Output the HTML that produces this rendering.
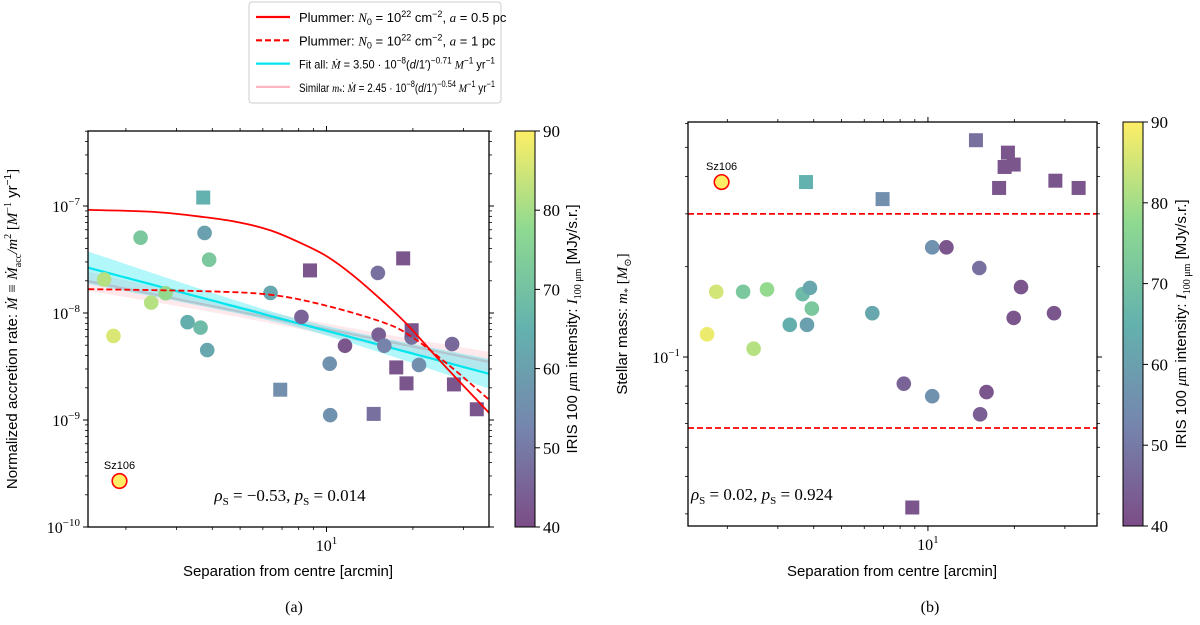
<!DOCTYPE html>
<html><head><meta charset="utf-8"><style>
html,body{margin:0;padding:0;background:#fff;}
svg{display:block;}
.sans{font-family:"Liberation Sans","DejaVu Sans",sans-serif;}
.serif{font-family:"Liberation Serif","DejaVu Serif",serif;}
</style></head><body>
<svg id="fig" width="1200" height="625" viewBox="0 0 1200 625" xmlns="http://www.w3.org/2000/svg">
<defs>
<linearGradient id="vir" x1="0" y1="1" x2="0" y2="0">
<stop offset="0" stop-color="#440154"/><stop offset="0.25" stop-color="#3b528b"/><stop offset="0.5" stop-color="#21918c"/><stop offset="0.75" stop-color="#5ec962"/><stop offset="1" stop-color="#fde725"/>
</linearGradient>
<clipPath id="clipL"><rect x="88" y="131" width="401" height="396"/></clipPath>
<clipPath id="clipR"><rect x="688" y="122" width="409" height="404"/></clipPath>
</defs>
<g id="gL"></g>
<g id="gR"></g>
<text x="294" y="612" class="serif" font-size="16" text-anchor="middle">(a)</text>
<text x="930" y="612" class="serif" font-size="16" text-anchor="middle">(b)</text>
</svg>
<script>
// ---- data (panel a) ----
const sepSqA = [3.72, 8.76, 18.5, 19.8, 6.9, 17.5, 19.0, 27.8, 14.6, 33.4];
const rateSqA = [1.2e-7, 2.5e-8, 3.24e-8, 6.9e-9, 1.92e-9, 3.1e-9, 2.2e-9, 2.15e-9, 1.14e-9, 1.26e-9];
const irisSqA = [65, 42, 42, 42, 55, 42, 42, 42, 48, 42];
const sepCiA = [1.68, 1.81, 2.25, 2.45, 2.75, 3.28, 3.64, 3.76, 3.90, 3.84, 6.38, 8.18, 10.26, 10.3, 11.6, 15.1, 15.2, 15.9, 19.8, 21.0, 27.4];
const rateCiA = [2.06e-8, 6.1e-9, 5.06e-8, 1.25e-8, 1.53e-8, 8.2e-9, 7.3e-9, 5.6e-8, 3.15e-8, 4.5e-9, 1.54e-8, 9.2e-9, 3.36e-9, 1.11e-9, 4.94e-9, 2.37e-8, 6.27e-9, 4.94e-9, 5.9e-9, 3.27e-9, 5.13e-9];
const irisCiA = [82, 86, 72, 82, 78, 64, 68, 60, 72, 62, 62, 45, 56, 56, 42, 48, 44, 52, 48, 55, 46];
const sz106A = [1.90, 2.69e-10, 90];
const plumSolidX = [1.48, 2.5, 3.72, 5, 6.4, 8, 10, 12.5, 15.9, 19.1, 25.3, 36.8];
const plumSolidY = [9.2e-8, 8.8e-8, 7.9e-8, 7e-8, 5.9e-8, 4.6e-8, 3.4e-8, 2.2e-8, 1.25e-8, 7.8e-9, 3.4e-9, 1.17e-9];
const plumDashX = [1.48, 3.72, 6.4, 10, 15.9, 19.8, 26.9, 36.8];
const plumDashY = [1.67e-8, 1.6e-8, 1.48e-8, 1.17e-8, 8.1e-9, 6e-9, 3.2e-9, 1.55e-9];
const fitAll = [3.50e-8, -0.71];
const fitSimilar = [2.45e-8, -0.54];
// ---- data (panel b) ----
const sepSqB = [3.76, 6.95, 14.7, 19.0, 18.5, 19.9, 17.7, 27.8, 33.5, 8.82];
const massSqB = [0.383, 0.336, 0.528, 0.48, 0.43, 0.438, 0.366, 0.387, 0.366, 0.0315];
const irisSqB = [65, 55, 48, 42, 42, 42, 42, 42, 42, 42];
const sepCiB = [1.70, 1.83, 2.27, 2.75, 2.47, 3.30, 3.66, 3.88, 3.94, 3.79, 6.40, 8.24, 10.35, 10.35, 11.6, 15.1, 15.2, 16.0, 21.1, 19.9, 27.5];
const massCiB = [0.119, 0.165, 0.165, 0.168, 0.1066, 0.128, 0.162, 0.17, 0.145, 0.128, 0.140, 0.0815, 0.074, 0.232, 0.232, 0.198, 0.0644, 0.0764, 0.171, 0.135, 0.14];
const irisCiB = [88, 85, 72, 78, 82, 64, 68, 62, 72, 60, 62, 45, 56, 56, 42, 48, 44, 42, 42, 42, 42];
const sz106B = [1.91, 0.383, 90];
const massLimits = [0.3, 0.058];
const cbarTicks = [40, 50, 60, 70, 80, 90];

const NS = "http://www.w3.org/2000/svg";
function mk(parent, tag, attrs) { const e = document.createElementNS(NS, tag); for (const k in attrs) e.setAttribute(k, attrs[k]); parent.appendChild(e); return e; }
const L10 = Math.log10;
const vir = [[68,1,84],[59,82,139],[33,145,140],[94,201,98],[253,231,37]];
function cmap(v) {
  let t = Math.max(0, Math.min(1, (v - 40) / 50)) * 4; let i = Math.min(3, Math.floor(t)); let f = t - i;
  const c = vir[i].map((a, k) => a + (vir[i+1][k] - a) * f).map(a => Math.round(a * 0.7 + 255 * 0.3));
  return `rgb(${c[0]},${c[1]},${c[2]})`;
}
const xL = v => 88 + (L10(v) - 0.169) * 287;
const yL = v => 206 - (L10(v) + 7) * 107;
const xR = v => 688 + (L10(v) - 0.164) * 287;
const yR = v => 357 - (L10(v) + 1) * 300;

function axesFrame(g, x0, y0, w, h, xs, ys, yMajor, yMinor, tag) {
  const ax = mk(g, 'g', {});
  
  
  [2,3,4,5,6,7,8,9,20,30].forEach(v => { const x = xs(v); if (x < x0 || x > x0 + w) return;
    mk(ax, 'line', {x1:x, x2:x, y1:y0+h, y2:y0+h+3, stroke:'#000', 'stroke-width':0.8});
    mk(ax, 'line', {x1:x, x2:x, y1:y0, y2:y0-3, stroke:'#000', 'stroke-width':0.8}); });
  const x10 = xs(10);
  mk(ax, 'line', {x1:x10, x2:x10, y1:y0+h, y2:y0+h+5, stroke:'#000', 'stroke-width':1});
  mk(ax, 'line', {x1:x10, x2:x10, y1:y0, y2:y0-5, stroke:'#000', 'stroke-width':1});
  const t = mk(ax, 'text', {x:x10, y:y0+h+24, 'text-anchor':'middle', 'font-size':16, class:'serif'});
  
  
  t.innerHTML = '10<tspan dy="-7" font-size="11">1</tspan>';
  yMinor.forEach(v => { const y = ys(v); if (y < y0 || y > y0 + h) return;
    mk(ax, 'line', {x1:x0, x2:x0-3, y1:y, y2:y, stroke:'#000', 'stroke-width':0.8});
    mk(ax, 'line', {x1:x0+w, x2:x0+w+3, y1:y, y2:y, stroke:'#000', 'stroke-width':0.8}); });
  yMajor.forEach(([v, e]) => { const y = ys(v);
    mk(ax, 'line', {x1:x0, x2:x0-5, y1:y, y2:y, stroke:'#000', 'stroke-width':1});
    mk(ax, 'line', {x1:x0+w, x2:x0+w+5, y1:y, y2:y, stroke:'#000', 'stroke-width':1});
    const tt = mk(ax, 'text', {x:x0-8, y:y+6, 'text-anchor':'end', 'font-size':16, class:'serif'});
    
    
    tt.innerHTML = '10<tspan dy="-7" font-size="11">' + e + '</tspan>'; });
  mk(ax, 'rect', {x:x0, y:y0, width:w, height:h, fill:'none', stroke:'#000', 'stroke-width':1.3});
}
function markers(g, xs, ys, X, Y, C, sq, tag) {
  X.forEach((xv, i) => {
    const cx = xs(xv), cy = ys(Y[i]); let e;
    if (sq) e = mk(g, 'rect', {x:cx-7, y:cy-7, width:14, height:14, fill:cmap(C[i])});
    else e = mk(g, 'circle', {cx:cx, cy:cy, r:7.3, fill:cmap(C[i])});
    
    
  });
}
function sz(g, xs, ys, d) {
  const cx = xs(d[0]), cy = ys(d[1]);
  const c = mk(g, 'circle', {cx:cx, cy:cy, r:7.3, fill:cmap(d[2]), stroke:'#f00', 'stroke-width':1.6});
  
  
  const t = mk(g, 'text', {x:cx, y:cy-12, 'text-anchor':'middle', 'font-size':11, class:'sans'});
  
  
  t.textContent = 'Sz106';
}
function colorbar(g, x, y0, h, tag) {
  const r = mk(g, 'rect', {x:x, y:y0, width:20, height:h, fill:'url(#vir)', 'fill-opacity':0.7, stroke:'#000', 'stroke-width':1});
  
  
  cbarTicks.forEach(v => { const y = y0 + h - (v - 40) / 50 * h;
    mk(g, 'line', {x1:x+20, x2:x+25, y1:y, y2:y, stroke:'#000'});
    const t = mk(g, 'text', {x:x+28, y:y+6, 'font-size':17, class:'serif'});
    
    
    t.textContent = v; });
}
function cbLabel(g, x, cy, tag) {
  const t = mk(g, 'text', {x:0, y:0, transform:`translate(${x},${cy}) rotate(-90)`, 'text-anchor':'middle', 'font-size':15, class:'sans'});
  
  
  t.innerHTML = 'IRIS 100 <tspan class="serif" font-style="italic">μ</tspan><tspan class="serif">m</tspan> intensity: <tspan class="serif" font-style="italic">I</tspan><tspan class="serif" font-size="10" dy="4">100 μm</tspan><tspan dy="-4"> [MJy/s.r.]</tspan>';
}
function pathFrom(xs, ys, X, Y) { return X.map((v, i) => (i ? 'L' : 'M') + xs(v).toFixed(1) + ',' + ys(Y[i]).toFixed(1)).join(''); }
function smoothPath(xs, ys, X, Y) {
  const P = X.map((v, i) => [xs(v), ys(Y[i])]);
  let d = 'M' + P[0][0].toFixed(1) + ',' + P[0][1].toFixed(1);
  for (let i = 0; i < P.length - 1; i++) {
    const p0 = P[Math.max(0, i-1)], p1 = P[i], p2 = P[i+1], p3 = P[Math.min(P.length-1, i+2)];
    const c1 = [p1[0] + (p2[0]-p0[0])/6, p1[1] + (p2[1]-p0[1])/6];
    const c2 = [p2[0] - (p3[0]-p1[0])/6, p2[1] - (p3[1]-p1[1])/6];
    d += 'C' + c1[0].toFixed(1) + ',' + c1[1].toFixed(1) + ' ' + c2[0].toFixed(1) + ',' + c2[1].toFixed(1) + ' ' + p2[0].toFixed(1) + ',' + p2[1].toFixed(1);
  }
  return d;
}
function fitLine(g, fit, color, hw, name) {
  const X = [], Up = [], Lo = [], Mid = [];
  for (let i = 0; i <= 60; i++) { const lx = 0.169 + i / 60 * (1.566 - 0.169); const x = Math.pow(10, lx);
    const m = fit[0] * Math.pow(x, fit[1]); const d = Math.sqrt(hw[0]*hw[0] + hw[1]*hw[1]*(lx - hw[2])*(lx - hw[2]));
    X.push(x); Mid.push(m); Up.push(m * Math.pow(10, d)); Lo.push(m / Math.pow(10, d)); }
  const band = mk(g, 'path', {d: pathFrom(xL, yL, X, Up) + pathFrom(xL, yL, X.slice().reverse(), Lo.slice().reverse()).replace('M', 'L') + 'Z', fill:color, 'fill-opacity':0.3, stroke:'none'});
  
  
  const ln = mk(g, 'path', {d: pathFrom(xL, yL, X, Mid), fill:'none', stroke:color, 'stroke-width':2.2});
  
  
}

// ---- panel a ----
const gL = document.getElementById('gL');
const pl = mk(gL, 'g', {'clip-path':'url(#clipL)'});
fitLine(pl, fitSimilar, '#ffb6c1', [0.05, 0.11, 0.85], 'similar-mass-fit');
fitLine(pl, fitAll, '#00e5ee', [0.04, 0.2, 0.9], 'fit-all');
markers(pl, xL, yL, sepCiA, rateCiA, irisCiA, false, 'star-circle');
markers(pl, xL, yL, sepSqA, rateSqA, irisSqA, true, 'star-square');
const ps = mk(pl, 'path', {d:smoothPath(xL, yL, plumSolidX, plumSolidY), fill:'none', stroke:'#f00', 'stroke-width':1.8});


const pd = mk(pl, 'path', {d:smoothPath(xL, yL, plumDashX, plumDashY), fill:'none', stroke:'#f00', 'stroke-width':1.8, 'stroke-dasharray':'6,3'});


sz(gL, xL, yL, sz106A);
const minorA = []; [-10,-9,-8,-7].forEach(e => { for (let k = 2; k <= 9; k++) minorA.push(k * Math.pow(10, e)); });
axesFrame(gL, 88, 131, 401, 396, xL, yL, [[1e-10,'−10'],[1e-9,'−9'],[1e-8,'−8'],[1e-7,'−7']], minorA, 'panel-a');
let t = mk(gL, 'text', {x:288, y:576, 'text-anchor':'middle', 'font-size':15, class:'sans'});
 
t.textContent = 'Separation from centre [arcmin]';
t = mk(gL, 'text', {x:0, y:0, transform:'translate(17,329) rotate(-90)', 'text-anchor':'middle', 'font-size':15, class:'sans'});
 
t.innerHTML = 'Normalized accretion rate: <tspan class="serif" font-style="italic">Ṁ ≡ Ṁ</tspan><tspan class="serif" font-size="10" dy="4">acc</tspan><tspan class="serif" font-style="italic" dy="-4">/m</tspan><tspan class="serif" font-size="10" dy="-6">2</tspan><tspan class="serif" dy="6"> [</tspan><tspan class="serif" font-style="italic">M</tspan><tspan class="serif" font-size="10" dy="-6">−1</tspan><tspan dy="6"> yr</tspan><tspan font-size="10" dy="-6">−1</tspan><tspan class="serif" dy="6">]</tspan>';
t = mk(gL, 'text', {x:290, y:501, 'text-anchor':'middle', 'font-size':17, class:'serif'});
 
t.innerHTML = '<tspan font-style="italic">ρ</tspan><tspan font-size="11" dy="4">S</tspan><tspan dy="-4"> = −0.53, </tspan><tspan font-style="italic">p</tspan><tspan font-size="11" dy="4">S</tspan><tspan dy="-4"> = 0.014</tspan>';
colorbar(gL, 515, 131, 396, 'panel-a');
cbLabel(gL, 577, 329, 'panel-a');

// legend
const lg = mk(gL, 'g', {});
 
mk(lg, 'rect', {x:249, y:2, width:252, height:101, rx:3, fill:'#fff', stroke:'#ccc'});
const legItems = [
 ['#f00', '', 'Plummer: <tspan font-style="italic" class="serif">N</tspan><tspan font-size="9" dy="3">0</tspan><tspan dy="-3"> = 10</tspan><tspan font-size="9" dy="-5">22</tspan><tspan dy="5"> cm</tspan><tspan font-size="9" dy="-5">−2</tspan><tspan dy="5">, </tspan><tspan class="serif" font-style="italic">a</tspan> = 0.5 pc'],
 ['#f00', '6,3', 'Plummer: <tspan font-style="italic" class="serif">N</tspan><tspan font-size="9" dy="3">0</tspan><tspan dy="-3"> = 10</tspan><tspan font-size="9" dy="-5">22</tspan><tspan dy="5"> cm</tspan><tspan font-size="9" dy="-5">−2</tspan><tspan dy="5">, </tspan><tspan class="serif" font-style="italic">a</tspan> = 1 pc'],
 ['#00e5ee', '', 'Fit all: <tspan class="serif" font-style="italic">Ṁ</tspan> = 3.50 · 10<tspan font-size="9" dy="-5">−8</tspan><tspan dy="5">(</tspan><tspan font-style="italic">d</tspan>/1′)<tspan font-size="9" dy="-5">−0.71</tspan><tspan dy="5"> </tspan><tspan class="serif" font-style="italic">M</tspan><tspan font-size="9" dy="-5">−1</tspan><tspan dy="5"> yr</tspan><tspan font-size="9" dy="-5">−1</tspan>'],
 ['#ffb6c1', '', 'Similar <tspan class="serif" font-style="italic">m</tspan><tspan font-size="9" dy="3">*</tspan><tspan dy="-3">: </tspan><tspan class="serif" font-style="italic">Ṁ</tspan> = 2.45 · 10<tspan font-size="9" dy="-5">−8</tspan><tspan dy="5">(</tspan><tspan font-style="italic">d</tspan>/1′)<tspan font-size="9" dy="-5">−0.54</tspan><tspan dy="5"> </tspan><tspan class="serif" font-style="italic">M</tspan><tspan font-size="9" dy="-5">−1</tspan><tspan dy="5"> yr</tspan><tspan font-size="9" dy="-5">−1</tspan>']];
legItems.forEach((it, i) => { const y = 17 + i * 23.3;
  const ln = mk(lg, 'line', {x1:256, x2:290, y1:y, y2:y, stroke:it[0], 'stroke-width':2.2, 'stroke-dasharray':it[1] || 'none'});
   
  const attrs = {x:299, y:y+5, 'font-size': i < 2 ? 13 : 12, class:'sans'};
  if (i >= 2) { attrs.textLength = '196'; attrs.lengthAdjust = 'spacingAndGlyphs'; }
  const tx = mk(lg, 'text', attrs);
   
  tx.innerHTML = it[2]; });

// ---- panel b ----
const gR = document.getElementById('gR');
const pr = mk(gR, 'g', {'clip-path':'url(#clipR)'});
massLimits.forEach(m => { const y = yR(m);
  const l = mk(pr, 'line', {x1:688, x2:1097, y1:y, y2:y, stroke:'#f00', 'stroke-width':1.8, 'stroke-dasharray':'6,3'});
    });
markers(pr, xR, yR, sepCiB, massCiB, irisCiB, false, 'star-circle');
markers(pr, xR, yR, sepSqB, massSqB, irisSqB, true, 'star-square');
sz(gR, xR, yR, sz106B);
const minorB = [0.03,0.04,0.05,0.06,0.07,0.08,0.09,0.2,0.3,0.4,0.5,0.6];
axesFrame(gR, 688, 122, 409, 404, xR, yR, [[0.1,'−1']], minorB, 'panel-b');
t = mk(gR, 'text', {x:892, y:576, 'text-anchor':'middle', 'font-size':15, class:'sans'});
 
t.textContent = 'Separation from centre [arcmin]';
t = mk(gR, 'text', {x:0, y:0, transform:'translate(627,324) rotate(-90)', 'text-anchor':'middle', 'font-size':15, class:'sans'});
 
t.innerHTML = 'Stellar mass: <tspan class="serif" font-style="italic">m</tspan><tspan class="serif" font-size="10" dy="4">*</tspan><tspan class="serif" dy="-4"> [</tspan><tspan class="serif" font-style="italic">M</tspan><tspan class="serif" font-size="10" dy="4">⊙</tspan><tspan class="serif" dy="-4">]</tspan>';
t = mk(gR, 'text', {x:691, y:500, 'font-size':17, class:'serif'});
 
t.innerHTML = '<tspan font-style="italic">ρ</tspan><tspan font-size="11" dy="4">S</tspan><tspan dy="-4"> = 0.02, </tspan><tspan font-style="italic">p</tspan><tspan font-size="11" dy="4">S</tspan><tspan dy="-4"> = 0.924</tspan>';
colorbar(gR, 1123, 122, 404, 'panel-b');
cbLabel(gR, 1186, 324, 'panel-b');
</script>
</body></html>
